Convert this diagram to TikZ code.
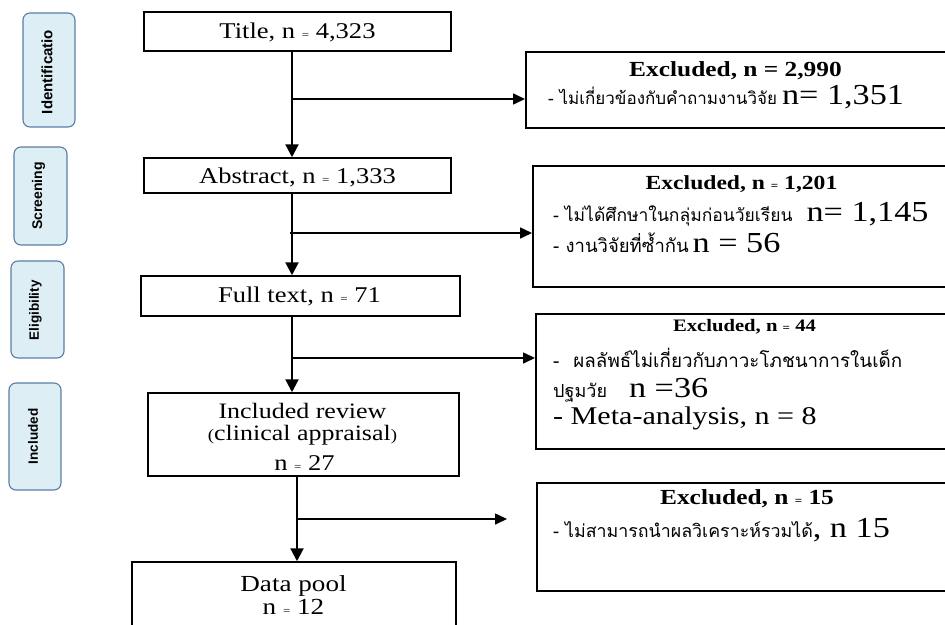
\documentclass[tikz,border=0pt]{standalone}
\usepackage{fontspec}
\setmainfont{Liberation Serif}
\newfontfamily\thai[Script=Thai]{Loma}
\newfontfamily\sidefont{Liberation Sans}
\usetikzlibrary{arrows.meta}
\definecolor{sidefill}{HTML}{DDEEF5}
\definecolor{sidedraw}{HTML}{5A7DA5}
\newcommand{\fs}[1]{\fontsize{#1}{#1}\selectfont}
\newcommand{\smeq}{{\fs{11}=}}
\newcommand{\st}[1]{\scalebox{1.18}[1]{#1}}
\tikzset{
  box/.style={draw=black, line width=1.5pt, inner sep=0pt},
  sidebox/.style={draw=sidedraw, fill=sidefill, line width=1.1pt, rounded corners=7pt, inner sep=0pt},
  sidetext/.style={rotate=90, font=\sidefont\bfseries, inner sep=0pt},
  txt/.style={inner sep=0pt, anchor=center},
  ltxt/.style={inner sep=0pt, anchor=west},
  trunk/.style={line width=2.2pt, -{Triangle[length=13pt,width=13pt]}},
  branch/.style={line width=1.6pt, -{Triangle[length=12pt,width=11pt]}},
}
\begin{document}
\begin{tikzpicture}[x=1pt,y=-1pt]
\path[use as bounding box, clip] (0,0) rectangle (945,624);
% side labels
\node[sidebox, minimum width=52pt, minimum height=114pt] (sid1) at (49,70) {};
\node[sidetext] (sidt1) at (47,72) {\fs{15}Identificatio};
\node[sidebox, minimum width=53pt, minimum height=98pt] (sid2) at (40.5,196) {};
\node[sidetext] (sidt2) at (38.5,196) {\fs{14}Screening};
\node[sidebox, minimum width=53pt, minimum height=97pt] (sid3) at (37.5,309.5) {};
\node[sidetext] (sidt3) at (35.5,310.5) {\fs{13.5}Eligibility};
\node[sidebox, minimum width=52pt, minimum height=107pt] (sid4) at (35,436.5) {};
\node[sidetext] (sidt4) at (33,436.5) {\fs{13.5}Included};
% main boxes
\node[box, minimum width=307pt, minimum height=39pt] (title) at (297.5,31.5) {};
\node[txt] (titlet) at (297.5,32) {\fs{22.5}\st{Title, n \smeq\ 4,323}};
\node[box, minimum width=307pt, minimum height=35pt] (abs) at (297.5,175.5) {};
\node[txt] (abst) at (297.5,177) {\fs{22.5}\st{Abstract, n \smeq\ 1,333}};
\node[box, minimum width=319pt, minimum height=40pt] (full) at (300.5,296) {};
\node[txt] (fullt) at (299.5,296) {\fs{22.5}\st{Full text, n \smeq\ 71}};
\node[box, minimum width=311pt, minimum height=83pt] (inc) at (303.5,434.5) {};
\node[txt, align=center, font=\fs{22}] (inct1) at (302.5,424) {\st{Included review}\\\st{{\fs{16}(}clinical appraisal{\fs{16})}}};
\node[txt] (inct3) at (304.5,463) {\fs{22.5}\st{n \smeq\ 27}};
\node[box, minimum width=324pt, minimum height=80pt] (pool) at (294,602) {};
\node[txt, align=center, font=\fs{23}] (poolt) at (293.5,595) {\st{Data pool}\\\st{n \smeq\ 12}};
% excluded boxes
\node[box, minimum width=440pt, minimum height=76pt, anchor=north west] (ex1) at (525,51) {};
\node[txt] (ex1t) at (735.5,71) {\fs{21.5}\bfseries\st{Excluded, n = 2,990}};
\node[ltxt] (ex1a) at (548,97) {{\thai\fs{17}- ไม่เกี่ยวข้องกับคำถามงานวิจัย}\hspace{5pt}{\fs{29}\st{n= 1,351}}};
\node[box, minimum width=440pt, minimum height=121pt, anchor=north west] (ex2) at (532,165) {};
\node[txt] (ex2t) at (741.5,184) {\fs{20}\bfseries\st{Excluded, n \smeq\ 1,201}};
\node[ltxt] (ex2a) at (553,214) {{\thai\fs{17.5}- ไม่ได้ศึกษาในกลุ่มก่อนวัยเรียน}\hspace{14pt}{\fs{29}\st{n= 1,145}}};
\node[ltxt] (ex2b) at (553,243) {{\thai\fs{18.5}- งานวิจัยที่ซ้ำกัน}\hspace{4pt}{\fs{29}\st{n = 56}}};
\node[box, minimum width=440pt, minimum height=135pt, anchor=north west] (ex3) at (535,313) {};
\node[txt] (ex3t) at (744.5,327) {\fs{17.5}\bfseries\st{Excluded, n \smeq\ 44}};
\node[ltxt] (ex3a) at (553,358) {\thai\fs{18.8}-\hspace{14pt}ผลลัพธ์ไม่เกี่ยวกับภาวะโภชนาการในเด็ก};
\node[ltxt] (ex3b) at (553,390) {{\thai\fs{18}ปฐมวัย}\hspace{22pt}{\fs{29}\st{n =36}}};
\node[ltxt] (ex3c) at (553,418) {\fs{25.5}\st{- Meta-analysis, n = 8}};
\node[box, minimum width=440pt, minimum height=108pt, anchor=north west] (ex4) at (536,482) {};
\node[txt] (ex4t) at (747,499) {\fs{21.5}\bfseries\st{Excluded, n \smeq\ 15}};
\node[ltxt] (ex4a) at (553,530) {{\thai\fs{17.8}- ไม่สามารถนำผลวิเคราะห์รวมได้}{\fs{29}\st{, n 15}}};
% branch points
\coordinate (b1) at (292,99);
\coordinate (b2) at (290,233);
\coordinate (b3) at (293,358);
\coordinate (b4) at (297,519);
\coordinate (e4) at (507,519);
% connectors
\draw[trunk] (292,0 |- title.south) -- (292,0 |- abs.north);
\draw[trunk] (292,0 |- abs.south) -- (292,0 |- full.north);
\draw[trunk] (292,0 |- full.south) -- (292,0 |- inc.north);
\draw[trunk] (297,0 |- inc.south) -- (297,0 |- pool.north);
\draw[branch] (b1) -- (b1 -| ex1.west);
\draw[branch] (b2) -- (b2 -| ex2.west);
\draw[branch] (b3) -- (b3 -| ex3.west);
\draw[branch] (b4) -- (e4);
\end{tikzpicture}
\end{document}
